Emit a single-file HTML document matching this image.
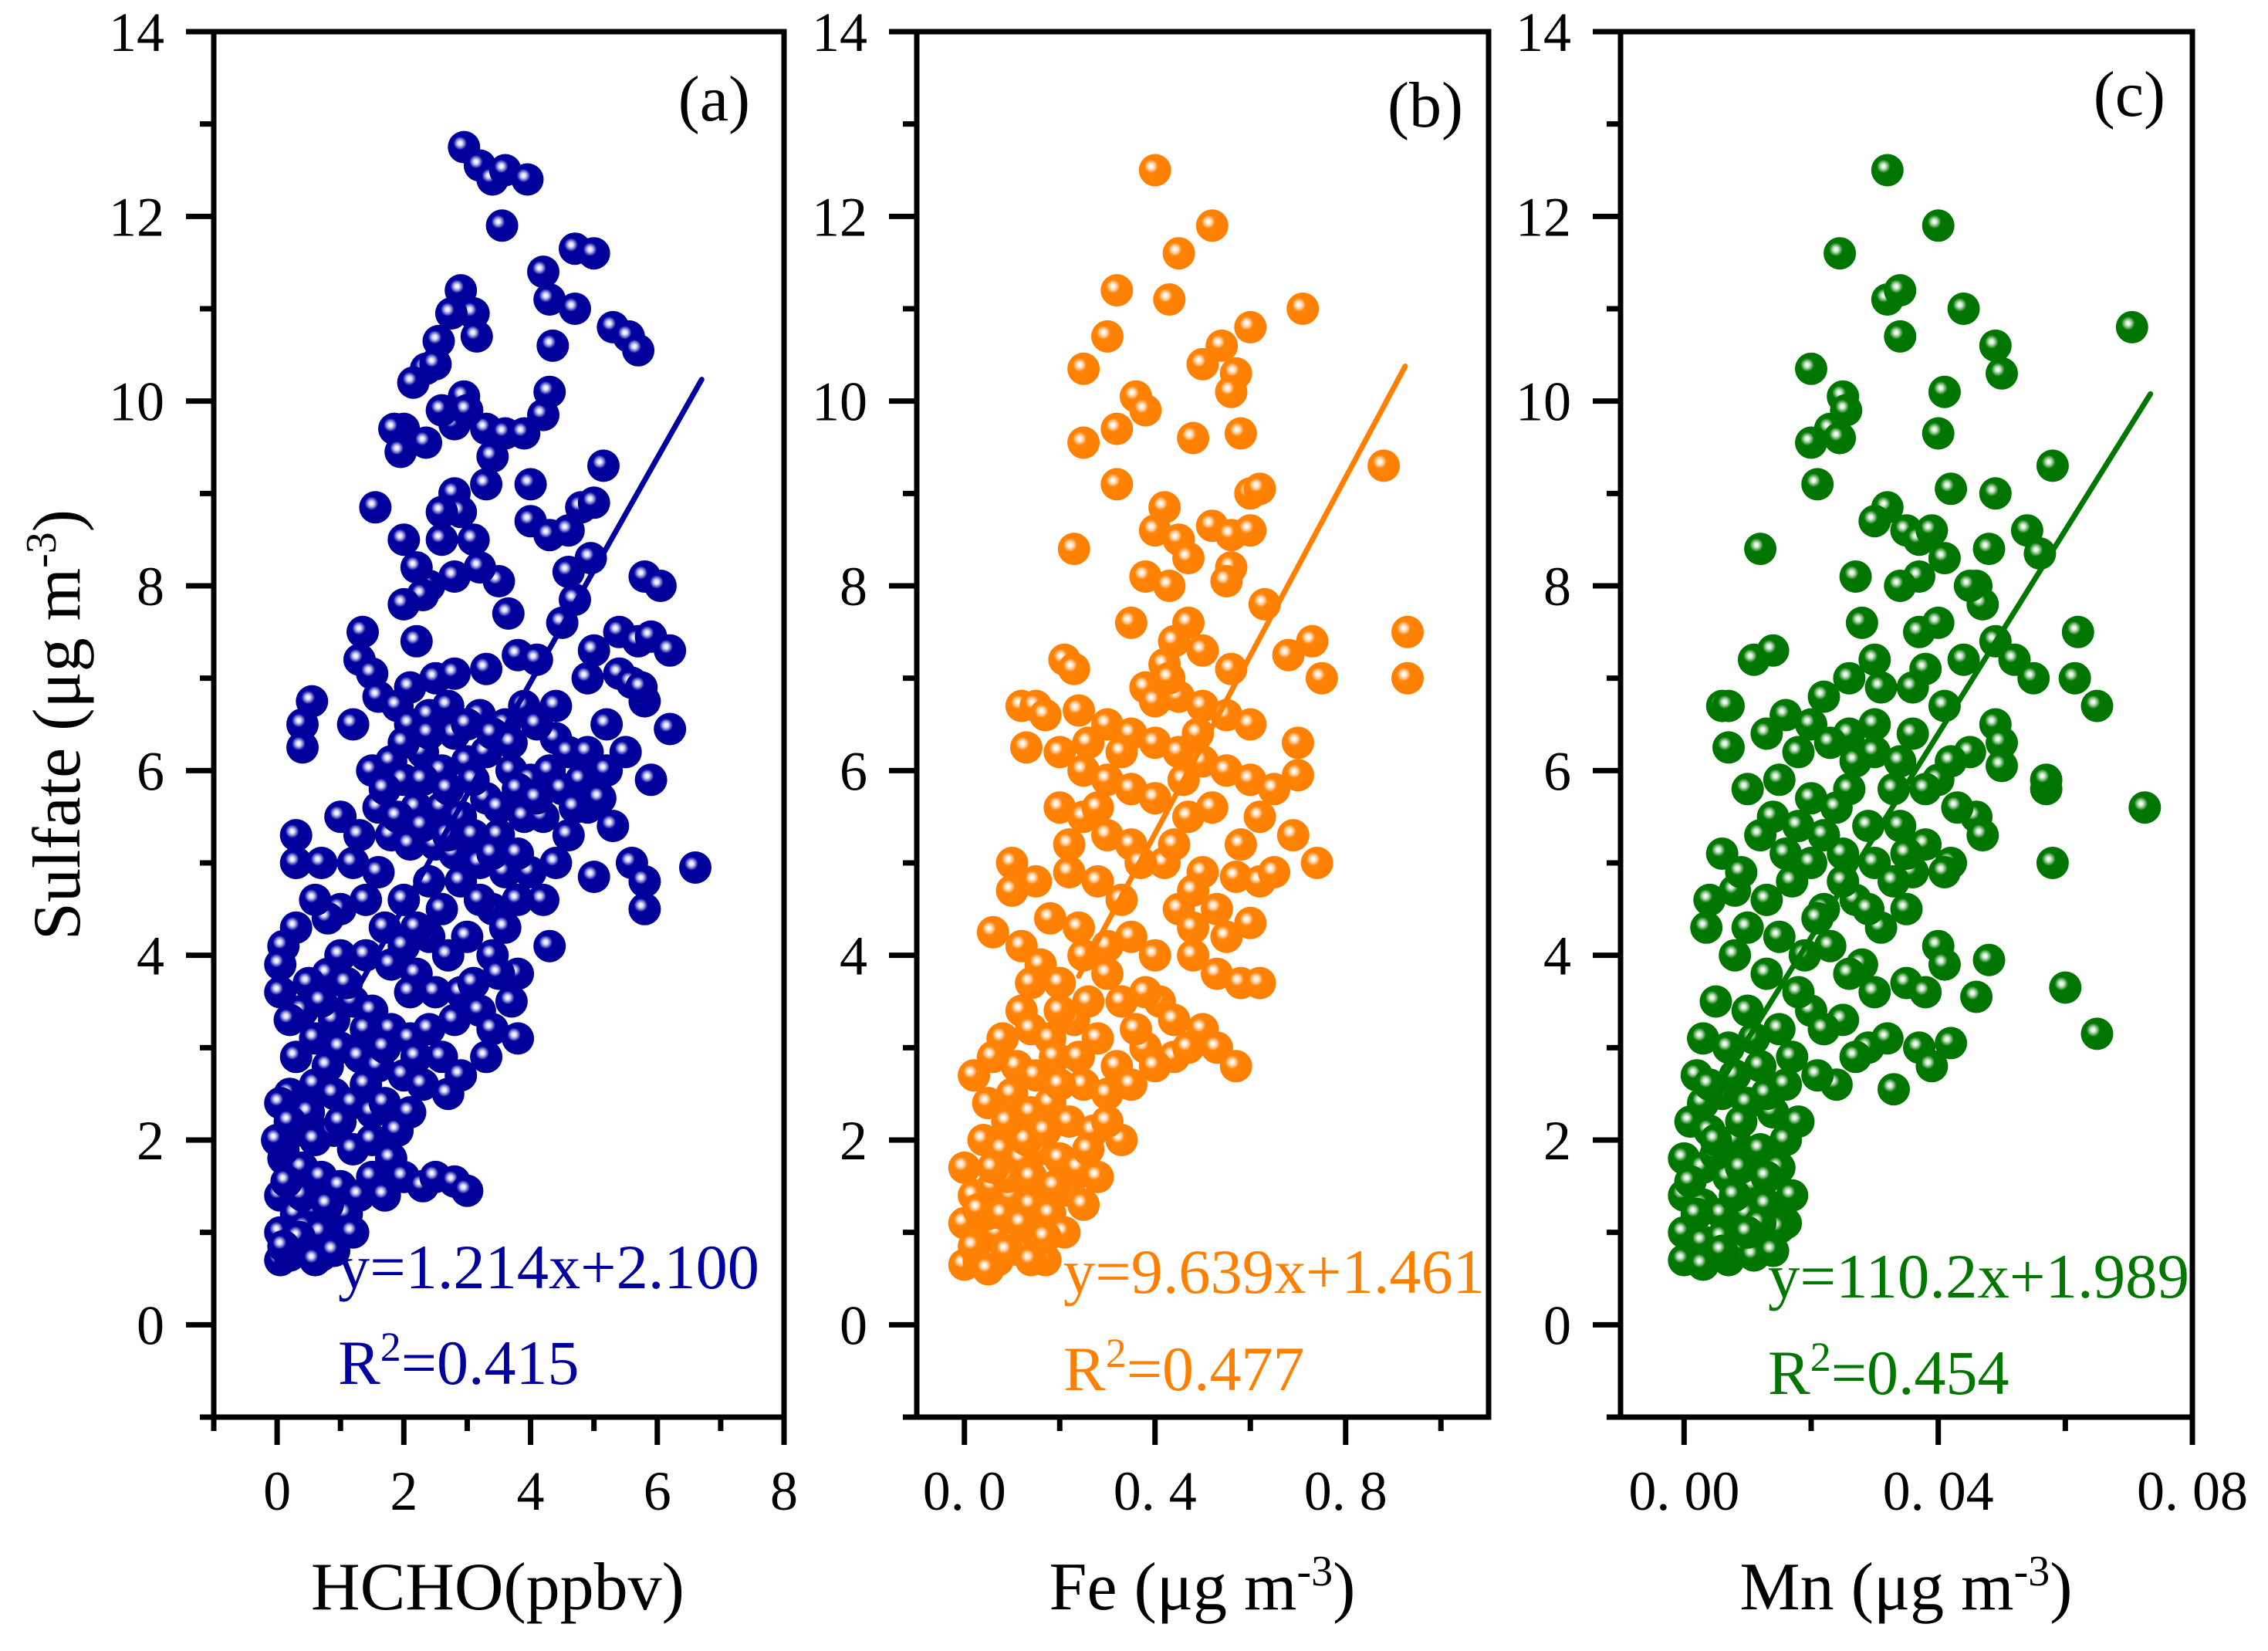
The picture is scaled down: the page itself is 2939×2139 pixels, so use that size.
<!DOCTYPE html>
<html><head><meta charset="utf-8"><style>
html,body{margin:0;padding:0;background:#fff;}
svg{display:block;font-family:"Liberation Serif",serif;}
</style></head><body>
<svg id="chart" xmlns="http://www.w3.org/2000/svg" width="2939" height="2139" viewBox="0 0 2939 2139">
<defs>
<radialGradient id="gBlue" cx="0.38" cy="0.38" r="0.62"><stop offset="0" stop-color="#ffffff"/><stop offset="0.1" stop-color="#e6e6ff"/><stop offset="0.2" stop-color="#8c8cd6"/><stop offset="0.34" stop-color="#0000a0"/><stop offset="1" stop-color="#000096"/></radialGradient>
<radialGradient id="gOrange" cx="0.38" cy="0.38" r="0.62"><stop offset="0" stop-color="#ffffff"/><stop offset="0.1" stop-color="#fff0e0"/><stop offset="0.2" stop-color="#ffc890"/><stop offset="0.34" stop-color="#ff8205"/><stop offset="1" stop-color="#ff8000"/></radialGradient>
<radialGradient id="gGreen" cx="0.38" cy="0.38" r="0.62"><stop offset="0" stop-color="#ffffff"/><stop offset="0.1" stop-color="#e0f0e0"/><stop offset="0.2" stop-color="#88c088"/><stop offset="0.34" stop-color="#007800"/><stop offset="1" stop-color="#007400"/></radialGradient>
</defs>
<text transform="translate(103,939) rotate(-90)" text-anchor="middle" font-size="88">Sulfate (μg m<tspan baseline-shift="super" font-size="56">-3</tspan>)</text>
</svg>
<script>
// ---- data (x, y pairs) ----
const hchoX = [2.95,3.2,3.4,3.6,3.95,3.55,4.7,5.0,4.2,4.3,4.7,2.9,3.1,2.75,3.15,2.55,2.35,2.15,4.35,5.3,5.55,5.7,2.95,2.8,3.3,3.0,2.0,1.85,1.95,2.35,3.6,3.9,4.2,4.3,5.15,4.0,3.3,2.8,2.9,2.6,2.0,1.55,2.4,2.8,3.1,3.5,3.65,4.0,4.3,4.6,4.8,5.0,4.95,4.6,4.7,5.8,6.05,2.3,2.0,1.35,1.3,1.5,1.6,2.2,2.5,2.8,3.3,3.8,4.1,0.55,0.4,0.4,5.0,5.4,5.7,5.9,6.2,5.4,5.6,5.8,6.2,5.75,1.9,2.1,2.4,2.8,3.2,3.6,3.9,4.4,4.6,4.9,2.3,2.6,3.0,3.3,3.7,4.0,1.5,1.8,2.0,4.3,4.5,4.8,5.2,5.3,4.9,2.2,2.6,2.9,3.3,3.5,3.9,4.2,4.6,1.6,1.8,2.1,2.5,2.8,3.2,3.6,4.0,4.2,3.8,3.4,5.0,5.6,5.8,5.8,6.6,1.2,1.4,1.0,0.8,0.3,0.1,0.05,0.05,0.3,0.3,0.6,1.7,2.0,2.4,2.7,3.0,3.4,3.8,4.3,2.2,2.5,2.9,3.2,3.7,3.8,3.4,3.3,0.4,0.6,0.9,1.2,1.5,1.8,2.1,2.4,2.6,2.9,1.0,1.3,1.6,2.0,2.3,2.7,0.3,0.2,0.6,0.9,1.2,1.5,1.9,0.05,0.3,0.6,0.9,1.2,1.5,1.8,2.0,2.3,2.5,2.8,3.0,0.1,0.4,0.7,1.0,1.3,0.05,0.3,0.6,0.9,1.1,0.05,0.25,0.5,0.8,0.05,0.2,0.4,0.7,0.1,0.0];
const hchoY = [12.75,12.55,12.4,12.5,12.4,11.9,11.65,11.6,11.4,11.1,11.0,11.2,10.95,10.95,10.7,10.65,10.35,10.2,10.6,10.8,10.7,10.55,10.05,9.75,9.7,9.9,9.7,9.7,9.45,9.55,9.65,9.65,9.85,10.1,9.3,9.1,9.1,9.0,8.8,8.5,8.5,8.85,8.0,8.1,8.5,8.05,7.7,8.7,8.55,8.6,8.85,8.9,8.3,8.15,7.85,8.1,8.0,7.9,7.8,7.5,7.2,7.05,6.8,7.4,7.0,7.05,7.1,7.25,7.2,6.75,6.5,6.25,7.3,7.5,7.4,7.45,7.3,7.05,6.95,6.75,6.45,6.9,6.7,6.5,6.6,6.4,6.6,6.5,6.7,6.35,6.2,6.2,6.2,6.0,6.1,6.2,6.0,5.9,6.0,6.1,5.9,6.0,5.8,5.9,6.0,5.4,5.6,5.6,5.6,5.5,5.7,5.3,5.5,5.5,5.3,5.6,5.3,5.2,5.2,5.1,5.0,4.9,4.9,4.6,4.6,4.5,4.85,5.0,4.8,4.5,4.95,5.0,4.6,4.5,4.4,4.3,4.1,3.9,3.6,5.3,5.0,4.6,4.3,4.1,4.2,4.0,4.2,4.0,3.8,4.1,3.8,3.6,3.6,3.4,3.5,3.1,3.2,2.9,3.4,3.1,3.3,3.5,3.4,3.2,3.1,3.2,2.9,2.7,3.0,2.9,2.8,2.7,2.6,2.5,2.9,2.5,2.6,2.5,2.4,2.3,2.1,2.4,2.1,2.0,2.1,1.9,2.0,1.8,1.6,1.5,1.6,1.55,1.45,1.8,1.7,1.6,1.5,1.4,1.4,1.2,1.25,1.1,1.2,1.0,0.9,0.85,0.9,0.7,0.75,0.8,0.75,1.9,2.0];
const hchoXExtra = [2.1,2.4,2.7,3.0,3.4,3.7,4.1,4.4,2.0,2.3,2.7,3.1,3.5,3.8,4.1,4.7,5.1,1.9,2.3,2.7,3.1,3.4,3.8,4.4,1.7,2.4,2.9,3.2,3.6,2.0,2.6,2.2,1.4,1.8,2.1,2.8,3.1,3.5,1.0,0.8,0.5,0.2,0.7,1.1,1.4,1.7,2.2,0.8,0.5,0.2,1.0,1.4,1.7,2.1,0.4,0.8,1.5,1.7,0.15,0.45,0.7,0.35,0.6,0.9,1.2,0.1,2.6,3.2,2.2,3.4,2.6,2.5,4.5,4.9,5.2,5.5,5.9,1.2,1.0,0.7,1.3,1.6];
const hchoYExtra = [6.9,6.4,6.7,6.5,6.4,6.3,6.5,6.7,6.3,5.9,5.8,5.9,5.6,5.8,5.7,5.6,5.7,5.5,5.4,5.3,5.3,5.1,5.1,5.0,5.8,4.8,4.8,4.6,4.3,4.6,4.5,4.3,4.0,3.9,3.6,3.3,3.7,3.8,4.0,3.8,3.7,3.3,3.5,3.7,3.2,3.0,2.9,2.8,2.3,2.2,2.2,2.6,2.4,2.3,1.4,1.3,1.6,1.4,1.55,1.05,1.0,0.95,0.7,0.8,1.0,0.85,8.8,8.2,8.2,9.4,9.9,10.4,7.6,7.0,6.5,6.2,5.9,6.5,5.5,5.0,5.3,4.9];
const feX = [0.4,0.52,0.45,0.32,0.43,0.71,0.3,0.6,0.54,0.5,0.57,0.25,0.56,0.36,0.38,0.25,0.32,0.48,0.58,0.88,0.32,0.6,0.62,0.42,0.4,0.45,0.52,0.56,0.6,0.47,0.56,0.38,0.43,0.55,0.63,0.23,0.47,0.44,0.42,0.56,0.68,0.73,0.75,0.93,0.93,0.21,0.23,0.38,0.4,0.45,0.5,0.55,0.6,0.7,0.12,0.15,0.17,0.24,0.3,0.35,0.4,0.45,0.5,0.55,0.6,0.65,0.7,0.13,0.2,0.25,0.3,0.35,0.4,0.47,0.52,0.62,0.69,0.2,0.25,0.3,0.35,0.42,0.5,0.57,0.62,0.65,0.74,0.1,0.1,0.15,0.22,0.28,0.33,0.45,0.48,0.55,0.6,0.35,0.4,0.48,0.53,0.58,0.62,0.06,0.12,0.16,0.2,0.25,0.3,0.33,0.41,0.44,0.5,0.53,0.57,0.44,0.47,0.08,0.12,0.14,0.18,0.23,0.28,0.32,0.38,0.35,0.25,0.3,0.02,0.05,0.1,0.14,0.18,0.22,0.27,0.33,0.04,0.08,0.12,0.16,0.2,0.24,0.28,0.22,0.25,0.0,0.02,0.06,0.1,0.14,0.18,0.21,0.0,0.03,0.07,0.11,0.15,0.0,0.03,0.07,0.12,0.17,0.05,0.09,0.13,0.17,0.11,0.15,0.19];
const feY = [12.5,11.9,11.6,11.2,11.1,11.0,10.7,10.8,10.6,10.4,10.3,10.35,10.1,10.05,9.9,9.55,9.7,9.6,9.65,9.3,9.1,9.0,9.05,8.85,8.6,8.5,8.65,8.55,8.6,8.3,8.2,8.1,8.0,8.05,7.8,8.4,7.6,7.4,7.15,7.1,7.25,7.4,7.0,7.5,7.0,7.2,7.1,6.9,6.75,6.8,6.7,6.6,6.5,6.3,6.7,6.7,6.6,6.65,6.5,6.4,6.3,6.2,6.1,6.0,5.9,5.8,5.95,6.25,6.2,6.0,5.9,5.8,5.7,5.5,5.6,5.5,5.3,5.6,5.5,5.3,5.2,5.0,4.9,4.85,4.8,4.9,5.0,5.0,4.7,4.8,4.9,4.8,4.6,4.5,4.3,4.2,4.35,4.2,4.0,4.0,3.8,3.7,3.7,4.25,4.1,3.9,3.7,4.0,3.8,3.5,3.5,3.3,3.2,3.0,2.8,2.9,3.0,3.1,3.4,3.2,3.1,3.3,3.1,2.8,3.0,2.6,2.6,2.5,2.7,2.4,2.5,2.3,2.4,2.2,2.1,2.0,2.0,1.9,1.8,1.9,1.8,1.7,1.6,1.45,1.3,1.7,1.4,1.5,1.4,1.3,1.2,1.0,1.1,0.9,1.0,0.9,1.0,0.65,0.7,0.7,0.8,0.7,1.2,1.6,2.0,2.1,2.8,2.7,2.9];
const feXExtra = [0.26,0.33,0.28,0.22,0.37,0.44,0.18,0.24,0.3,0.38,0.14,0.2,0.26,0.36,0.4,0.06,0.09,0.2,0.24,0.3,0.06,0.14,0.19,0.26,0.03,0.08,0.12,0.17,0.02,0.09,0.05,0.14,0.48,0.53,0.58,0.49,0.43,0.5,0.35,0.46];
const feYExtra = [6.3,6.2,5.6,5.2,5.0,5.2,4.4,4.3,4.1,3.6,3.7,3.4,3.5,3.2,2.8,2.9,2.2,2.6,2.9,2.2,1.7,1.6,1.5,1.9,1.25,1.2,1.1,0.95,0.85,0.8,0.6,0.7,4.7,4.5,5.2,6.4,7.0,7.3,7.6,5.9];
const mnX = [0.032,0.04,0.0245,0.032,0.034,0.044,0.0705,0.034,0.049,0.05,0.02,0.025,0.0255,0.041,0.023,0.02,0.0245,0.04,0.058,0.049,0.042,0.021,0.032,0.03,0.035,0.037,0.039,0.041,0.037,0.046,0.027,0.034,0.012,0.048,0.054,0.056,0.047,0.049,0.052,0.055,0.037,0.038,0.03,0.036,0.031,0.062,0.0615,0.065,0.011,0.014,0.006,0.007,0.016,0.02,0.026,0.03,0.036,0.041,0.045,0.049,0.05,0.05,0.042,0.007,0.013,0.018,0.023,0.027,0.033,0.04,0.046,0.057,0.057,0.0725,0.01,0.015,0.02,0.024,0.029,0.034,0.038,0.042,0.047,0.012,0.016,0.02,0.025,0.03,0.036,0.041,0.058,0.006,0.008,0.013,0.017,0.022,0.027,0.031,0.004,0.01,0.015,0.019,0.023,0.028,0.0035,0.008,0.013,0.035,0.038,0.04,0.041,0.048,0.046,0.06,0.065,0.005,0.01,0.015,0.02,0.025,0.029,0.032,0.037,0.042,0.039,0.033,0.024,0.027,0.003,0.007,0.012,0.017,0.021,0.002,0.006,0.01,0.014,0.018,0.001,0.004,0.008,0.012,0.016,0.0,0.003,0.007,0.011,0.015,0.0,0.003,0.006,0.01,0.013,0.016,0.0,0.003,0.006,0.009,0.012,0.0,0.003,0.007,0.011,0.015,0.001,0.005,0.009,0.003];
const mnY = [12.5,11.9,11.6,11.1,11.2,11.0,10.8,10.7,10.6,10.3,10.35,10.05,9.9,10.1,9.7,9.55,9.6,9.65,9.3,9.0,9.05,9.1,8.85,8.7,8.6,8.5,8.6,8.3,8.1,8.0,8.1,8.0,8.4,8.4,8.6,8.35,7.8,7.4,7.2,7.0,7.5,7.1,7.2,6.9,6.9,7.5,7.0,6.7,7.2,7.3,6.7,6.7,6.6,6.5,6.4,6.5,6.4,6.7,6.2,6.5,6.3,6.05,6.1,6.25,6.4,6.2,6.3,6.1,5.8,5.9,5.5,5.8,5.9,5.6,5.8,5.9,5.7,5.6,5.4,5.4,5.2,5.0,5.3,5.3,5.1,5.0,5.1,5.0,4.9,4.9,5.0,5.1,4.7,4.6,4.8,4.5,4.6,4.3,4.6,4.3,4.2,4.0,4.1,3.9,4.3,4.0,3.8,3.7,3.6,4.1,3.9,3.95,3.55,3.65,3.15,3.5,3.4,3.2,3.4,3.3,3.0,3.1,3.0,3.05,2.8,2.55,2.6,2.9,3.1,3.0,2.8,2.9,2.7,2.7,2.5,2.4,2.3,2.2,2.2,2.1,2.0,1.9,2.0,1.8,1.7,1.6,1.5,1.7,1.4,1.3,1.2,1.2,1.3,1.1,1.0,0.9,0.95,0.85,0.9,0.7,0.65,0.7,0.75,1.05,1.55,1.85,2.2,2.4];
const mnXExtra = [0.005,0.009,0.013,0.017,0.002,0.008,0.012,0.006,0.01,0.014,0.004,0.008,0.013,0.016,0.011,0.018,0.022,0.026,0.03,0.021,0.025,0.029,0.033,0.035,0.009,0.014,0.018,0.022,0.026,0.03,0.034,0.038,0.043,0.022,0.026,0.044,0.045,0.040,0.028,0.035];
const mnYExtra = [2.0,1.7,1.6,1.4,1.2,1.4,1.1,0.8,1.0,0.8,2.6,2.7,2.5,2.6,3.1,3.6,3.2,3.8,3.6,4.4,4.8,4.5,4.8,4.5,4.9,5.5,5.4,5.3,5.8,6.2,6.1,5.8,5.6,6.8,7.0,7.2,8.0,7.6,7.6,5.1];
const hchoXAll = hchoX.concat(hchoXExtra), hchoYAll = hchoY.concat(hchoYExtra);
const feXAll = feX.concat(feXExtra), feYAll = feY.concat(feYExtra);
const mnXAll = mnX.concat(mnXExtra), mnYAll = mnY.concat(mnYExtra);
const xTicksA = [0,2,4,6,8];   const xTickLabelsA = ["0","2","4","6","8"];   const xMinorA = [-1,1,3,5,7];
const xTicksB = [0,0.4,0.8];   const xTickLabelsB = ["0. 0","0. 4","0. 8"];   const xMinorB = [0.2,0.6,1.0];
const xTicksC = [0,0.04,0.08]; const xTickLabelsC = ["0. 00","0. 04","0. 08"]; const xMinorC = [0.02,0.06];
const yTicks = [0,2,4,6,8,10,12,14]; const yTickLabels = ["0","2","4","6","8","10","12","14"]; const yMinor = [-1,1,3,5,7,9,11,13];
const fitA = [1.214,2.100]; const fitRangeA = [1.3,6.7];
const fitB = [9.639,1.461]; const fitRangeB = [0.24,0.925];
const fitC = [110.2,1.989]; const fitRangeC = [0.005,0.0734];

const NS = "http://www.w3.org/2000/svg";
const svg = document.getElementById('chart');
function mk(tag, attrs, parent){const e=document.createElementNS(NS,tag);for(const k in attrs)e.setAttribute(k,attrs[k]);(parent||svg).appendChild(e);return e;}

const panels = [
 {id:'a',L:277,R:1016,xmin:-1,xmax:8,xs:hchoXAll,ys:hchoYAll,color:'#0000a0',grad:'gBlue',ticks:xTicksA,labels:xTickLabelsA,minor:xMinorA,fit:fitA,fr:fitRangeA,
  title:['HCHO(ppbv)',null],tx:645,eq:'y=1.214x+2.100',r2:'0.415',ex:438,ey:1669,ry:1793,lab:'(a)',labx:972,laby:156},
 {id:'b',L:1188,R:1929,xmin:-0.1,xmax:1.1,xs:feXAll,ys:feYAll,color:'#ff8000',grad:'gOrange',ticks:xTicksB,labels:xTickLabelsB,minor:xMinorB,fit:fitB,fr:fitRangeB,
  title:['Fe (μg m','-3'],tx:1558,eq:'y=9.639x+1.461',r2:'0.477',ex:1378,ey:1675,ry:1801,lab:'(b)',labx:1896,laby:164},
 {id:'c',L:2100,R:2841,xmin:-0.01,xmax:0.08,xs:mnXAll,ys:mnYAll,color:'#007800',grad:'gGreen',ticks:xTicksC,labels:xTickLabelsC,minor:xMinorC,fit:fitC,fr:fitRangeC,
  title:['Mn (μg m','-3'],tx:2470,eq:'y=110.2x+1.989',r2:'0.454',ex:2291,ey:1681,ry:1806,lab:'(c)',labx:2806,laby:150}
];
const T=41,B=1836,YMIN=-1,YMAX=14;

panels.forEach(p=>{
  const sx=v=>p.L+(v-p.xmin)/(p.xmax-p.xmin)*(p.R-p.L);
  const sy=v=>B-(v-YMIN)/(YMAX-YMIN)*(B-T);
  const g=mk('g',{});
  
  
  const pg=mk('g',{},g);
  
  
  for(let i=0;i<p.xs.length;i++){
    const c=mk('circle',{cx:sx(p.xs[i]).toFixed(1),cy:sy(p.ys[i]).toFixed(1),r:21,fill:'url(#'+p.grad+')'},pg);
    
    
  }
  const fl=mk('line',{x1:sx(p.fr[0]),y1:sy(p.fit[0]*p.fr[0]+p.fit[1]),x2:sx(p.fr[1]),y2:sy(p.fit[0]*p.fr[1]+p.fit[1]),stroke:p.color,'stroke-width':7,'stroke-linecap':'round'},g);
  
  
  const bx=mk('rect',{x:p.L,y:T,width:p.R-p.L,height:B-T,fill:'none',stroke:'#000','stroke-width':7},g);
  
  
  yTicks.forEach((v,i)=>{
    mk('line',{x1:p.L-36,x2:p.L,y1:sy(v),y2:sy(v),stroke:'#000','stroke-width':7},g);
    const t=mk('text',{x:p.L-64,y:sy(v)+25,'text-anchor':'end','font-size':72},g);
    t.textContent=yTickLabels[i];
    
    
  });
  yMinor.forEach(v=>mk('line',{x1:p.L-18,x2:p.L,y1:sy(v),y2:sy(v),stroke:'#000','stroke-width':7},g));
  p.ticks.forEach((v,i)=>{
    mk('line',{x1:sx(v),x2:sx(v),y1:B,y2:B+36,stroke:'#000','stroke-width':7},g);
    const t=mk('text',{x:sx(v),y:1956,'text-anchor':'middle','font-size':72},g);
    t.textContent=p.labels[i];
    
    
  });
  p.minor.forEach(v=>mk('line',{x1:sx(v),x2:sx(v),y1:B,y2:B+18,stroke:'#000','stroke-width':7},g));
  const xt=mk('text',{x:p.tx,y:2085,'text-anchor':'middle','font-size':88},g);
  
  
  xt.appendChild(document.createTextNode(p.title[0]));
  if(p.title[1]){const s=mk('tspan',{'baseline-shift':'super','font-size':56},xt);s.textContent=p.title[1];xt.appendChild(document.createTextNode(')'));}
  const eq=mk('text',{x:p.ex,y:p.ey,'font-size':82,fill:p.color,textLength:546,lengthAdjust:'spacingAndGlyphs'},g);
  eq.textContent=p.eq;
  
  
  const r2=mk('text',{x:p.ex,y:p.ry,'font-size':82,fill:p.color},g);
  
  
  r2.appendChild(document.createTextNode('R'));
  const sup=mk('tspan',{'baseline-shift':'super','font-size':54},r2);sup.textContent='2';
  r2.appendChild(document.createTextNode('=' + p.r2));
  const lb=mk('text',{x:p.labx,y:p.laby,'text-anchor':'end','font-size':84},g);
  lb.textContent=p.lab;
  
  
});
</script>
</body></html>
